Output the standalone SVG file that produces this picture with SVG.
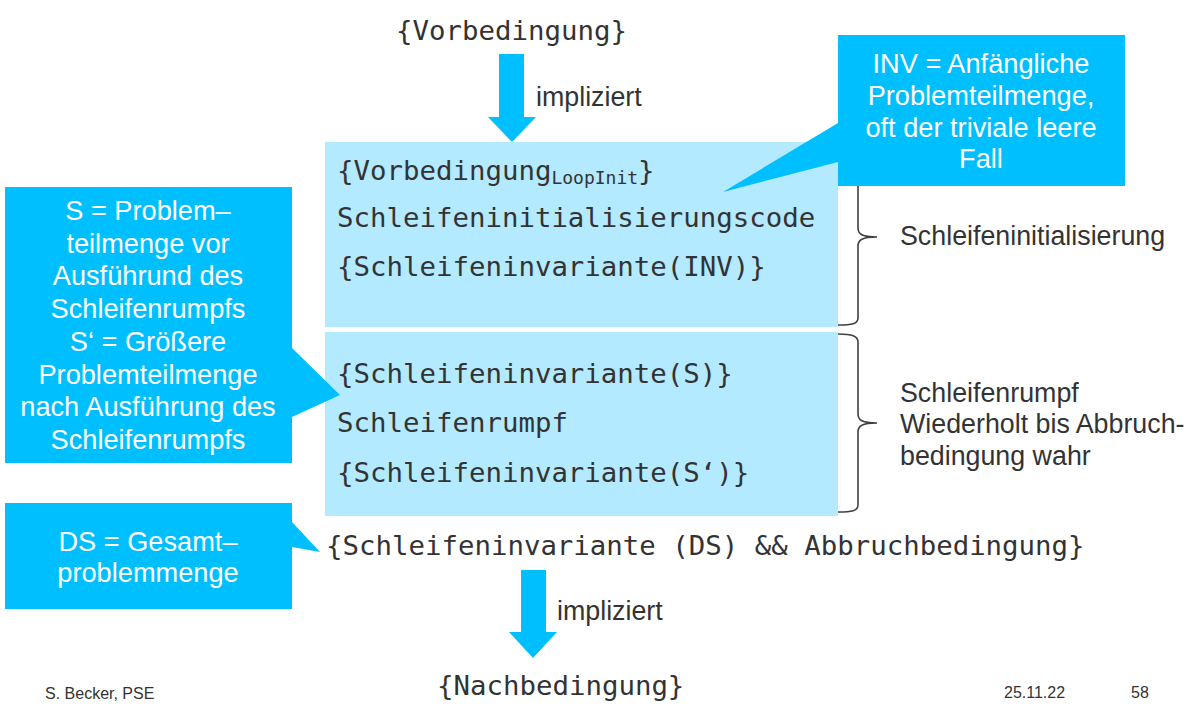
<svg xmlns="http://www.w3.org/2000/svg" width="1195" height="712" viewBox="0 0 1195 712">
<style>
.mono{font-family:"DejaVu Sans Mono","Liberation Mono",monospace;font-size:27.4px;fill:#333333}
.sans{font-family:"Liberation Sans",Arial,sans-serif;font-size:26.8px;fill:#333333}
.call{font-family:"Liberation Sans",Arial,sans-serif;font-size:27.2px;fill:#ffffff;text-anchor:middle}
.callout{fill:#00BFFF}
.box{fill:#B3EAFF}
.brace{fill:none;stroke:#404040;stroke-width:1.6}
.arrow{fill:#00BFFF}
.foot{font-family:"Liberation Sans",Arial,sans-serif;font-size:16px;fill:#333333}
</style>
<rect width="1195" height="712" fill="#ffffff"/>
<g id="pre">
<text class="mono" x="396" y="40">{Vorbedingung}</text>
</g>
<g id="init-box">
<rect class="box" x="325" y="142" width="513" height="185"/>
<text class="mono" x="337" y="180">{Vorbedingung<tspan font-size="18" dy="4">LoopInit</tspan><tspan dy="-4">}</tspan></text>
<text class="mono" x="337" y="227">Schleifeninitialisierungscode</text>
<text class="mono" x="337" y="276">{Schleifeninvariante(INV)}</text>
</g>
<g id="body-box">
<rect class="box" x="325" y="332" width="513" height="184"/>
<text class="mono" x="337" y="383">{Schleifeninvariante(S)}</text>
<text class="mono" x="337" y="432">Schleifenrumpf</text>
<text class="mono" x="337" y="482">{Schleifeninvariante(S‘)}</text>
</g>
<g id="post-inv">
<text class="mono" x="326" y="555">{Schleifeninvariante (DS) &amp;&amp; Abbruchbedingung}</text>
</g>
<g id="post">
<text class="mono" x="437" y="695">{Nachbedingung}</text>
</g>
<g id="connectors">
<polygon class="arrow" points="499,54 524,54 524,117 536,117 512,142 488,117 499,117"/>
<text class="sans" x="536" y="106">impliziert</text>
<polygon class="arrow" points="521,570 546,570 546,632 557,632 533,658 509,632 521,632"/>
<text class="sans" x="557" y="620">impliziert</text>
<path class="brace" d="M838,143 C852,143 858,145 858,152 L858,228 C858,234 862,237 877,237 C862,237 858,240 858,246 L858,318 C858,324 852,325 838,325"/>
<path class="brace" d="M838,334 C852,334 858,336 858,342 L858,414 C858,420 862,423 877,423 C862,423 858,426 858,432 L858,505 C858,511 852,512 838,512"/>
</g>
<g id="label-init">
<text class="sans" x="900" y="245">Schleifeninitialisierung</text>
</g>
<g id="label-body">
<text class="sans" x="900" y="402">Schleifenrumpf</text>
<text class="sans" x="900" y="433">Wiederholt bis Abbruch-</text>
<text class="sans" x="900" y="465">bedingung wahr</text>
</g>
<g id="callout-inv">
<polygon class="callout" points="838,35 1125,35 1125,186 838,186 838,162 723,192 838,123"/>
<text class="call" x="981" y="73">INV = Anfängliche</text>
<text class="call" x="981" y="105">Problemteilmenge,</text>
<text class="call" x="981" y="137">oft der triviale leere</text>
<text class="call" x="981" y="168">Fall</text>
</g>
<g id="callout-s">
<polygon class="callout" points="5,187 292,187 292,348 340,395 292,417 292,463 5,463"/>
<text class="call" x="148" y="220">S = Problem–</text>
<text class="call" x="148" y="253">teilmenge vor</text>
<text class="call" x="148" y="285">Ausführund des</text>
<text class="call" x="148" y="318">Schleifenrumpfs</text>
<text class="call" x="148" y="351">S‘ = Größere</text>
<text class="call" x="148" y="384">Problemteilmenge</text>
<text class="call" x="148" y="416">nach Ausführung des</text>
<text class="call" x="148" y="449">Schleifenrumpfs</text>
</g>
<g id="callout-ds">
<polygon class="callout" points="5,503 292,503 292,522 320,552 292,547 292,609 5,609"/>
<text class="call" x="148" y="551">DS = Gesamt–</text>
<text class="call" x="148" y="582">problemmenge</text>
</g>
<g id="footer">
<text class="foot" x="45" y="699">S. Becker, PSE</text>
<text class="foot" x="1004" y="698">25.11.22</text>
<text class="foot" x="1131" y="698">58</text>
</g>
</svg>
